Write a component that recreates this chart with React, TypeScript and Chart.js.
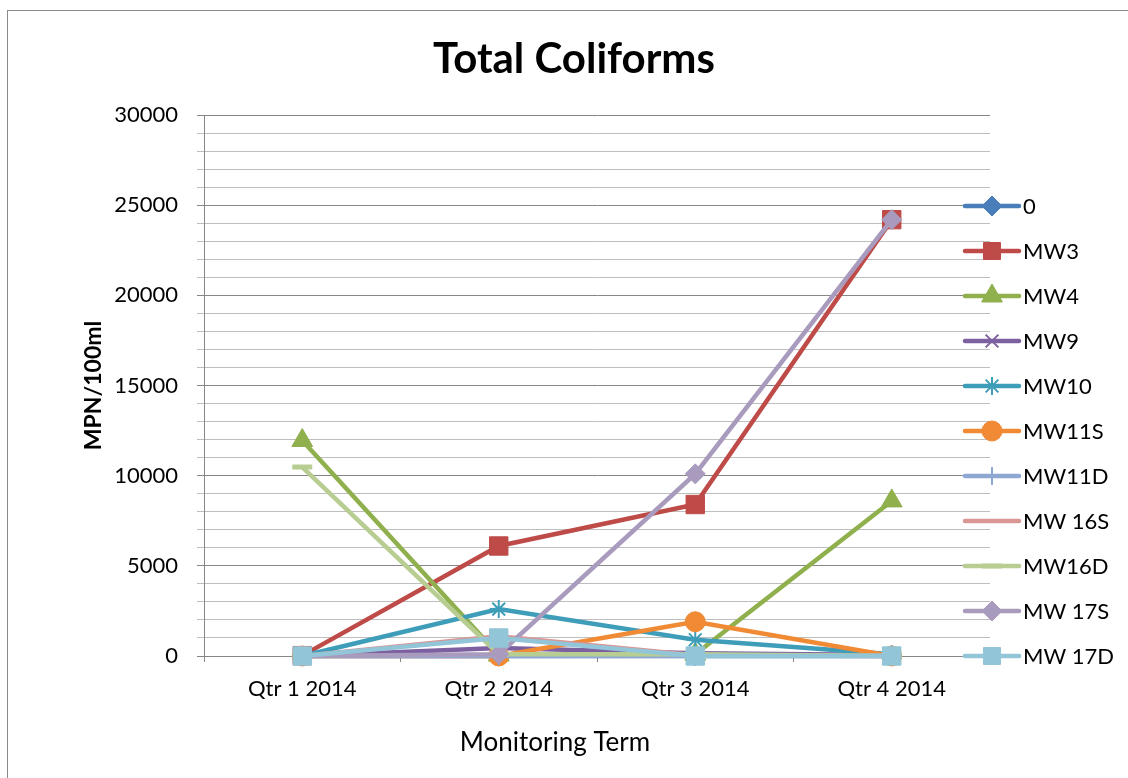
import React, { useEffect, useRef } from 'react';
import { Chart, registerables } from 'chart.js';
import { drawPoint } from 'chart.js/helpers';

Chart.register(...registerables);

// ---- data ----
const categories = ['Qtr 1 2014', 'Qtr 2 2014', 'Qtr 3 2014', 'Qtr 4 2014'];
const seriesNames = ['0', 'MW3', 'MW4', 'MW9', 'MW10', 'MW11S', 'MW11D', 'MW 16S', 'MW16D', 'MW 17S', 'MW 17D'];
const s0 = [0, 0, 0, 0];
const mw3 = [20, 6100, 8400, 24196];
const mw4 = [11950, 50, 100, 8600];
const mw9 = [0, 450, 150, 60];
const mw10 = [0, 2600, 900, 100];
const mw11s = [0, 0, 1900, 0];
const mw11d = [0, 0, 20, 30];
const mw16s = [0, 1100, 40, 0];
const mw16d = [10480, 100, 100, 0];
const mw17s = [0, 100, 10100, 24196];
const mw17d = [0, 1000, 0, 0];
const seriesValues = [s0, mw3, mw4, mw9, mw10, mw11s, mw11d, mw16s, mw16d, mw17s, mw17d];
const yMin = 0;
const yMax = 30000;
const yMinorStep = 1000;
const yMajorStep = 5000;

// ---- styles ----
const lineColors = ['#4A7EBB', '#BE4B48', '#8FB04C', '#7D60A0', '#3E9DB8', '#F08A35', '#8EA8D3', '#D99694', '#B7CD91', '#A99BBD', '#92C5D7'];
const pointStyles = ['rectRot', 'rect', 'triangle', 'crossRot', 'star', 'circle', 'cross', 'circle', 'line', 'rectRot', 'rect'];
const pointRadii = [10, 13, 12, 9, 9, 10, 9, 0, 10, 10, 13];
const legendRadii = [10, 12, 12, 9, 9, 10, 9, 0, 10, 10, 12];
const pointBorderWidths = [1, 1, 1, 2, 2, 1, 2, 1, 5, 1, 1];
const FONT = 'Lato';

const chromePlugin = {
  id: 'chrome',
  beforeDraw(chart: any) {
    const ctx = chart.ctx;
    ctx.save();
    ctx.fillStyle = '#ffffff';
    ctx.fillRect(0, 0, chart.width, chart.height);
    ctx.strokeStyle = '#8a8a8a';
    ctx.lineWidth = 1;
    ctx.strokeRect(7.5, 10.5, 1300, 1000);
    ctx.restore();
  },
  afterDraw(chart: any) {
    const ctx = chart.ctx;
    ctx.save();
    ctx.fillStyle = '#000';
    ctx.textAlign = 'center';
    ctx.textBaseline = 'middle';
    ctx.font = `bold 42px ${FONT}`;
    ctx.fillText('Total Coliforms', 574, 59);
    ctx.font = `26px ${FONT}`;
    ctx.fillText('Monitoring Term', 555, 743);

    // legend
    const lx0 = 965, lx1 = 1019, mx = 992, tx = 1023, ly0 = 206, dy = 45;
    seriesNames.forEach((name, i) => {
      const y = ly0 + dy * i;
      ctx.strokeStyle = lineColors[i];
      ctx.lineWidth = 4.5;
      ctx.lineCap = 'round';
      ctx.beginPath();
      ctx.moveTo(lx0, y);
      ctx.lineTo(lx1, y);
      ctx.stroke();
      ctx.lineCap = 'butt';
      if (legendRadii[i] > 0) {
        ctx.fillStyle = lineColors[i];
        ctx.strokeStyle = lineColors[i];
        ctx.lineWidth = pointBorderWidths[i];
        drawPoint(ctx, { pointStyle: pointStyles[i], radius: legendRadii[i], rotation: 0, borderWidth: pointBorderWidths[i] } as any, mx, y);
      }
      ctx.fillStyle = '#000';
      ctx.textAlign = 'left';
      ctx.textBaseline = 'middle';
      ctx.font = `22px ${FONT}`;
      ctx.fillText(name, tx, y + 1);
    });
    ctx.restore();
  },
};

export default function App() {
  const ref = useRef<HTMLCanvasElement>(null);
  useEffect(() => {
    const n = seriesNames.length;
    const datasets = seriesNames.map((name, i) => ({
      label: name,
      data: seriesValues[i],
      borderColor: lineColors[i],
      backgroundColor: lineColors[i],
      borderWidth: 4.5,
      tension: 0,
      pointStyle: pointStyles[i],
      pointRadius: pointRadii[i],
      pointBorderWidth: pointBorderWidths[i],
      pointBackgroundColor: lineColors[i],
      pointBorderColor: lineColors[i],
      clip: false,
      order: n - 1 - i,
    }));
    const gridColor = (c: any) =>
      c.tick && c.tick.value % yMajorStep === 0 ? '#868686' : '#BEBEBE';
    const chart = new Chart(ref.current as HTMLCanvasElement, {
      type: 'line',
      data: { labels: categories, datasets: datasets as any },
      options: {
        responsive: false,
        animation: false,
        devicePixelRatio: 1,
        layout: { padding: { top: 115, right: 138, left: 0, bottom: 0 } },
        plugins: {
          legend: { display: false },
          title: { display: false },
          tooltip: { enabled: false },
        },
        scales: {
          x: {
            type: 'category',
            offset: true,
            grid: {
              offset: true,
              drawOnChartArea: false,
              drawTicks: true,
              tickLength: 6,
              tickColor: '#868686',
              color: '#868686',
            },
            border: { color: '#868686', width: 1 },
            ticks: {
              font: { family: FONT, size: 22 },
              color: '#000',
              padding: 14,
              maxRotation: 0,
              autoSkip: false,
            },
            afterFit: (s: any) => {
              s.height = 122;
            },
          },
          y: {
            min: yMin,
            max: yMax,
            grid: {
              color: gridColor,
              tickColor: gridColor,
              lineWidth: 1,
              tickLength: 7,
            },
            border: { color: '#868686', width: 1 },
            ticks: {
              stepSize: yMinorStep,
              autoSkip: false,
              font: { family: FONT, size: 22 },
              color: '#000',
              padding: 19,
              callback: (v: any) => (Number(v) % yMajorStep === 0 ? String(v) : ''),
            },
            title: {
              display: true,
              text: 'MPN/100ml',
              font: { family: FONT, size: 23, weight: 'bold' },
              color: '#000',
              padding: { top: 80, bottom: 0 },
            },
            afterFit: (s: any) => {
              s.width = 204;
            },
          },
        },
      } as any,
      plugins: [chromePlugin],
    });
    return () => chart.destroy();
  }, []);
  return (
    <div style={{ position: 'absolute', left: 0, top: 0, width: 1128, height: 778 }}>
      <canvas ref={ref} width={1128} height={778} style={{ display: 'block' }} />
    </div>
  );
}
